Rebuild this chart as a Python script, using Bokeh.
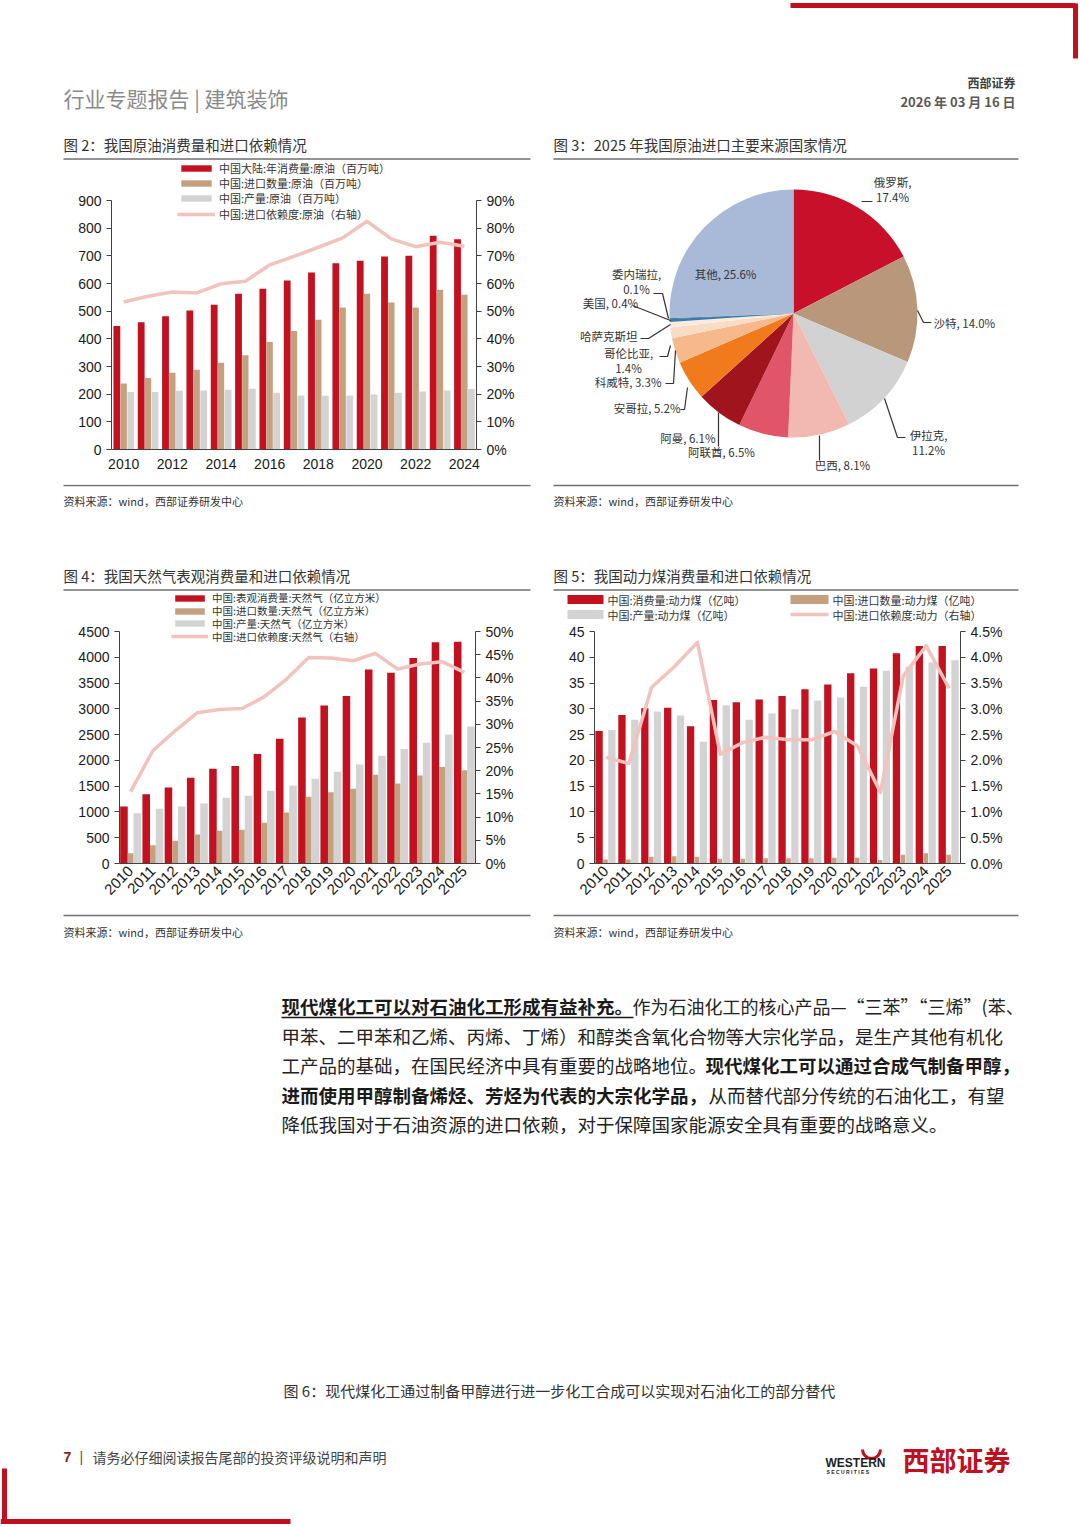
import numpy as np
from bokeh.plotting import figure
from bokeh.layouts import column, row
from bokeh.models import (Range1d, LinearAxis, FixedTicker, PrintfTickFormatter,
                          Legend, LegendItem, ColumnDataSource)
from bokeh.transform import dodge
from bokeh.core.properties import value
from bokeh.embed import file_html
from bokeh.resources import INLINE

CJK = "Noto Sans CJK SC"
LAT = "Liberation Sans"
RED = "#C3111F"
TAN = "#C4A07E"
GREY = "#D3D3D3"
PINK = "#F2C3BC"
TXT = "#333333"
RULE = "#6f6f6f"
BRAND = "#C0101E"

# ---------------- data ----------------
oil_years = [2010, 2011, 2012, 2013, 2014, 2015, 2016, 2017, 2018, 2019, 2020, 2021, 2022, 2023, 2024]
oil_consumption = [446, 460, 482, 502, 523, 563, 581, 611, 640, 673, 682, 698, 700, 773, 760]
oil_imports = [239, 258, 277, 288, 314, 341, 389, 428, 469, 513, 563, 531, 513, 577, 559]
oil_production = [208, 208, 212, 213, 216, 220, 205, 195, 194, 195, 199, 205, 210, 213, 219]
oil_dependency = [53.3, 55.4, 56.9, 56.6, 59.9, 60.8, 66.7, 69.8, 73.1, 76.5, 82.5, 76.1, 73.3, 74.9, 73.5]
oil_xticks = [2010, 2012, 2014, 2016, 2018, 2020, 2022, 2024]
oil_legend = ["中国大陆:年消费量:原油（百万吨）", "中国:进口数量:原油（百万吨）",
              "中国:产量:原油（百万吨）", "中国:进口依赖度:原油（右轴）"]

gas_years = [2010, 2011, 2012, 2013, 2014, 2015, 2016, 2017, 2018, 2019, 2020, 2021, 2022, 2023, 2024, 2025]
gas_consumption = [1106, 1345, 1475, 1662, 1837, 1889, 2122, 2419, 2833, 3066, 3247, 3765, 3700, 3984, 4290, 4300]
gas_imports = [200, 356, 440, 563, 634, 653, 789, 990, 1294, 1384, 1449, 1721, 1553, 1708, 1870, 1811]
gas_production = [977, 1061, 1106, 1164, 1274, 1313, 1410, 1513, 1643, 1779, 1921, 2089, 2219, 2341, 2503, 2658]
gas_dependency = [15.5, 24.3, 28.6, 32.5, 33.2, 33.4, 35.9, 39.7, 44.4, 44.3, 43.7, 45.3, 41.9, 43.0, 43.5, 41.2]
gas_legend = ["中国:表观消费量:天然气（亿立方米）", "中国:进口数量:天然气（亿立方米）",
              "中国:产量:天然气（亿立方米）", "中国:进口依赖度:天然气（右轴）"]

coal_years = [2010, 2011, 2012, 2013, 2014, 2015, 2016, 2017, 2018, 2019, 2020, 2021, 2022, 2023, 2024, 2025]
coal_consumption = [25.7, 28.8, 30.1, 30.2, 26.6, 31.7, 31.3, 31.8, 32.5, 33.8, 34.7, 36.9, 37.8, 40.8, 42.2, 42.2]
coal_imports = [0.8, 0.8, 1.3, 1.4, 1.3, 0.9, 0.9, 1.0, 1.0, 1.0, 1.1, 1.1, 0.7, 1.7, 2.0, 1.7]
coal_production = [25.9, 27.9, 29.5, 28.7, 23.6, 30.7, 27.9, 29.1, 29.9, 31.6, 32.2, 34.3, 37.4, 38.2, 39.0, 39.4]
coal_dependency = [2.06, 1.94, 3.42, 3.82, 4.29, 2.12, 2.35, 2.45, 2.40, 2.40, 2.56, 2.28, 1.38, 3.64, 4.22, 3.40]
coal_legend = ["中国:消费量:动力煤（亿吨）", "中国:进口数量:动力煤（亿吨）",
               "中国:产量:动力煤（亿吨）", "中国:进口依赖度:动力（右轴）"]

pie_names = ["俄罗斯", "沙特", "伊拉克", "巴西", "阿联酋", "阿曼", "安哥拉", "科威特",
             "哥伦比亚", "哈萨克斯坦", "美国", "委内瑞拉", "其他"]
pie_shares = [17.4, 14.0, 11.2, 8.1, 6.5, 6.1, 5.2, 3.3, 1.4, 0.7, 0.4, 0.1, 25.6]
pie_colors = ["#C8102A", "#B9977A", "#D2D2D2", "#F2B9B1", "#E05668", "#A0141D", "#F07A1C",
              "#F5B98C", "#F8DCC6", "#FBEBDD", "#3A7CA8", "#1F4E79", "#A9BAD9"]


# ---------------- helpers ----------------
def canvas(x0, y0, w, h):
    p = figure(width=w, height=h, x_range=Range1d(x0, x0 + w), y_range=Range1d(y0 + h, y0),
               x_axis_type=None, y_axis_type=None, output_backend="svg",
               toolbar_location=None, min_border=0, title=None)
    p.outline_line_color = None
    p.frame_align = False
    return p


def put(p, x, y, s, size=12, color=TXT, align="left", font=CJK, style="normal"):
    p.text(x=[x], y=[y], text=[s], text_font=value(font), text_font_size=f"{size}px",
           text_color=color, text_align=align, text_baseline="middle", text_font_style=style)


def hline(p, x0, x1, y, color=RULE, width=1.5):
    p.line(x=[x0, x1], y=[y, y], line_color=color, line_width=width)


def style_axis(a, tick_out, standoff):
    a.axis_line_color = "#404040"
    a.axis_line_width = 1
    a.major_tick_line_color = "#404040"
    a.major_tick_out = tick_out
    a.major_tick_in = 0
    a.minor_tick_line_color = None
    a.major_label_text_font = LAT
    a.major_label_text_font_size = "14px"
    a.major_label_text_color = "#1a1a1a"
    a.major_label_standoff = standoff


def bar_chart(x0, y0, w, h, fl, fr, fb, pmax, years, cons, imp, prod, dep,
              lmax, lstep, rmax, rstep, rfmt, xticks, angle, offs, wids, legend_items,
              legend_size=11):
    mbl = int(round(fl - x0))
    mbr = int(round(x0 + w - fr))
    mbb = int(round(y0 + h - fb))
    fb_r = y0 + h - mbb
    ratio = (fb_r - y0) / (fb_r - pmax)
    src = ColumnDataSource(dict(year=years, cons=cons, imp=imp, prod=prod, dep=dep))
    p = figure(width=w, height=h, x_range=Range1d(years[0] - 0.5, years[-1] + 0.5),
               y_range=Range1d(0, lmax * ratio), x_axis_type=None, y_axis_type=None,
               output_backend="svg", toolbar_location=None, title=None,
               min_border_left=mbl, min_border_right=mbr, min_border_top=0, min_border_bottom=mbb)
    p.frame_align = False
    p.extra_y_ranges = {"r": Range1d(0, rmax * ratio)}
    p.outline_line_color = None
    rend = {}
    rend["c"] = p.vbar(x=dodge("year", offs[0]), top="cons", width=wids[0], source=src,
                       fill_color=RED, line_color=None)
    rend["i"] = p.vbar(x=dodge("year", offs[1]), top="imp", width=wids[1], source=src,
                       fill_color=TAN, line_color=None)
    rend["p"] = p.vbar(x=dodge("year", offs[2]), top="prod", width=wids[2], source=src,
                       fill_color=GREY, line_color=None)
    rend["d"] = p.line(x="year", y="dep", y_range_name="r", source=src, line_color=PINK,
                       line_width=3.5, line_join="round")

    xa = LinearAxis(ticker=FixedTicker(ticks=xticks), formatter=PrintfTickFormatter(format="%d"))
    style_axis(xa, 0, 9 if angle == 0 else 5)
    xa.major_tick_line_color = None
    if angle:
        xa.major_label_orientation = angle
        xa.major_label_text_font_size = "15px"
    p.add_layout(xa, "below")

    lt = [float(v) for v in np.arange(0, lmax + lstep / 2, lstep)]
    ya = LinearAxis(ticker=FixedTicker(ticks=lt), bounds=(0, lmax),
                    formatter=PrintfTickFormatter(format="%d"))
    style_axis(ya, 5, 5)
    p.add_layout(ya, "left")

    rt = [float(v) for v in np.arange(0, rmax + rstep / 2, rstep)]
    ra = LinearAxis(y_range_name="r", ticker=FixedTicker(ticks=rt), bounds=(0, rmax),
                    formatter=PrintfTickFormatter(format=rfmt))
    style_axis(ra, 5, 5)
    p.add_layout(ra, "right")

    # one Legend per entry so that each row sits where the reference has it
    LH = 18
    for lab, key, lx, yc, gw, gh in legend_items:
        leg = Legend(items=[LegendItem(label=lab, renderers=[rend[key]])],
                     location=(lx - (x0 + mbl), fb_r - (yc + LH / 2)),
                     orientation="vertical", border_line_color=None, background_fill_alpha=0,
                     padding=0, margin=0, spacing=0, glyph_width=gw, glyph_height=gh,
                     label_height=LH, label_standoff=4, label_text_font=CJK,
                     label_text_font_size=f"{legend_size}px", label_text_color=TXT)
        p.add_layout(leg)
    return p, rend


SOURCE = "资料来源：wind，西部证券研发中心"
LW = 545          # left column width
RW = 533          # right column width
TOTAL_W = LW + RW

# ---------------- header ----------------
head = canvas(0, 0, TOTAL_W, 130)
head.line(x=[790, 1075], y=[5, 5], line_color=BRAND, line_width=5)
head.line(x=[1075, 1075], y=[3, 58], line_color=BRAND, line_width=5)
put(head, 63, 97, "行业专题报告 | 建筑装饰", size=21, color="#8a8a8a")
put(head, 1015, 82, "西部证券", size=12, color="#404040", align="right", style="bold")
put(head, 1015, 101, "2026 年 03 月 16 日", size=13, color="#595959", align="right", style="bold")

# ---------------- chart 2 (oil) ----------------
cap2 = canvas(0, 130, LW, 30)
put(cap2, 63, 144, "图 2：我国原油消费量和进口依赖情况", size=14.5)
hline(cap2, 63, 530, 158.5)

ch2, _ = bar_chart(0, 160, LW, 324, fl=111, fr=476, fb=449, pmax=200,
                   years=oil_years, cons=oil_consumption, imp=oil_imports, prod=oil_production,
                   dep=oil_dependency, lmax=900, lstep=100, rmax=90, rstep=10, rfmt="%d%%",
                   xticks=oil_xticks, angle=0, offs=(-0.28, 0.0, 0.29), wids=(0.28, 0.26, 0.28),
                   legend_items=[(oil_legend[0], "c", 177, 168, 38, 8),
                                 (oil_legend[1], "i", 177, 183, 38, 8),
                                 (oil_legend[2], "p", 177, 198, 38, 8),
                                 (oil_legend[3], "d", 177, 214, 38, 8)])

src2 = canvas(0, 484, LW, 31)
hline(src2, 63, 530, 485)
put(src2, 63, 500, SOURCE, size=11)

# ---------------- chart 3 (pie) ----------------
pie = canvas(LW, 130, RW, 385)
put(pie, 553, 144, "图 3：2025 年我国原油进口主要来源国家情况", size=14.5)
hline(pie, 553, 1018, 158.5)
hline(pie, 553, 1018, 485)
put(pie, 553, 500, SOURCE, size=11)

frac = np.array(pie_shares) / sum(pie_shares)
cum = np.concatenate([[0.0], np.cumsum(frac)])
pie_src = ColumnDataSource(dict(
    x=[793.0] * len(pie_names), y=[313.0] * len(pie_names),
    start=list(np.pi / 2 - 2 * np.pi * cum[1:]), end=list(np.pi / 2 - 2 * np.pi * cum[:-1]),
    color=pie_colors, name=pie_names))
pie.wedge(x="x", y="y", radius=124, start_angle="start", end_angle="end",
          fill_color="color", line_color=None, source=pie_src)

lab = {n: f"{n}, {v:.1f}%" for n, v in zip(pie_names, pie_shares)}
two = {n: (f"{n},", f"{v:.1f}%") for n, v in zip(pie_names, pie_shares)}
pie_text = [
    (two["俄罗斯"][0], 892, 181, "center"), (two["俄罗斯"][1], 892, 196, "center"),
    (lab["沙特"], 933, 322, "left"),
    (two["伊拉克"][0], 928, 434, "center"), (two["伊拉克"][1], 928, 449, "center"),
    (lab["巴西"], 842, 464, "center"),
    (lab["阿联酋"], 721, 451, "center"),
    (lab["阿曼"], 715, 437, "right"),
    (lab["安哥拉"], 680, 407, "right"),
    (lab["科威特"], 661, 381, "right"),
    (two["哥伦比亚"][0], 628, 352, "center"), (two["哥伦比亚"][1], 628, 367, "center"),
    ("哈萨克斯坦", 637, 335, "right"),
    (lab["美国"], 610, 302, "center"),
    (two["委内瑞拉"][0], 636, 273, "center"), (two["委内瑞拉"][1], 636, 288, "center"),
    (lab["其他"], 725, 273, "center"),
]
for s, x, y, a in pie_text:
    put(pie, x, y, s, size=11.5, align=a)

leaders_x = [[861, 872], [917, 923, 931], [884, 897, 905], [819, 819], [718, 718],
             [687, 684, 680], [675, 673, 665], [670, 667, 659], [670, 648, 640],
             [670, 632], [668, 662, 653]]
leaders_y = [[201, 201], [310, 322, 322], [398, 437, 437], [435, 460], [412, 446],
             [387, 409, 409], [350, 383, 383], [345, 356, 356], [324, 338, 338],
             [320, 305], [318, 293, 293]]
pie.multi_line(xs=leaders_x, ys=leaders_y, line_color="#333333", line_width=1.2)

# ---------------- chart 4 (gas) ----------------
cap4 = canvas(0, 515, LW, 76)
put(cap4, 63, 575, "图 4：我国天然气表观消费量和进口依赖情况", size=14.5)
hline(cap4, 63, 530, 589.5)

ch4, _ = bar_chart(0, 591, LW, 322, fl=119, fr=475, fb=863, pmax=631,
                   years=gas_years, cons=gas_consumption, imp=gas_imports, prod=gas_production,
                   dep=gas_dependency, lmax=4500, lstep=500, rmax=50, rstep=5, rfmt="%d%%",
                   xticks=gas_years, angle=np.pi / 4, offs=(-0.3, 0.0, 0.3), wids=(0.34, 0.26, 0.34),
                   legend_items=[(gas_legend[0], "c", 171, 597.5, 37, 8),
                                 (gas_legend[1], "i", 171, 610.5, 37, 8),
                                 (gas_legend[2], "p", 171, 623, 37, 8),
                                 (gas_legend[3], "d", 171, 636, 37, 8)],
                   legend_size=10.5)

src4 = canvas(0, 913, LW, 32)
hline(src4, 63, 530, 915)
put(src4, 63, 931, SOURCE, size=11)

# ---------------- chart 5 (coal) ----------------
ch5, rend5 = bar_chart(LW, 622, RW, 291, fl=594, fr=960, fb=863, pmax=631,
                       years=coal_years, cons=coal_consumption, imp=coal_imports,
                       prod=coal_production, dep=coal_dependency, lmax=45, lstep=5, rmax=4.5,
                       rstep=0.5, rfmt="%.1f%%", xticks=coal_years, angle=np.pi / 4,
                       offs=(-0.3, -0.02, 0.26), wids=(0.32, 0.2, 0.32), legend_items=[])

# the coal legend reaches past the plot frame, so it is drawn in the strip above
cap5 = canvas(LW, 515, RW, 107)
put(cap5, 553, 575, "图 5：我国动力煤消费量和进口依赖情况", size=14.5)
hline(cap5, 553, 1018, 589.5)
leg5 = [(coal_legend[0], RED, "bar", 567, 599, 36),
        (coal_legend[2], GREY, "bar", 567, 614, 36),
        (coal_legend[1], TAN, "bar", 790, 599, 38),
        (coal_legend[3], PINK, "line", 790, 614, 38)]
for text, col, kind, lx, yc, gw in leg5:
    if kind == "bar":
        cap5.rect(x=[lx + gw / 2], y=[yc], width=gw, height=9, fill_color=col, line_color=None)
    else:
        cap5.line(x=[lx, lx + gw], y=[yc, yc], line_color=col, line_width=3.5)
    put(cap5, lx + gw + 4, yc, text, size=11)

src5 = canvas(LW, 913, RW, 32)
hline(src5, 553, 1018, 915)
put(src5, 553, 931, SOURCE, size=11)

# ---------------- body text & footer ----------------
body = canvas(0, 945, TOTAL_W, 579)
FS = 18.5
put(body, 281, 1005, "现代煤化工可以对石油化工形成有益补充。", size=FS, color="#1a1a1a", style="bold")
body.line(x=[281, 633], y=[1017, 1017], line_color="#1a1a1a", line_width=1.5)
put(body, 632, 1005, "作为石油化工的核心产品—“三苯”“三烯”(苯、", size=18, color="#222222")
put(body, 281, 1035, "甲苯、二甲苯和乙烯、丙烯、丁烯）和醇类含氧化合物等大宗化学品，是生产其他有机化",
    size=FS, color="#222222")
put(body, 281, 1064, "工产品的基础，在国民经济中具有重要的战略地位。", size=FS, color="#222222")
put(body, 705, 1064, "现代煤化工可以通过合成气制备甲醇，", size=FS, color="#1a1a1a", style="bold")
put(body, 281, 1094, "进而使用甲醇制备烯烃、芳烃为代表的大宗化学品，", size=FS, color="#1a1a1a", style="bold")
put(body, 708, 1094, "从而替代部分传统的石油化工，有望", size=FS, color="#222222")
put(body, 281, 1123, "降低我国对于石油资源的进口依赖，对于保障国家能源安全具有重要的战略意义。",
    size=FS, color="#222222")

put(body, 283, 1390, "图 6：现代煤化工通过制备甲醇进行进一步化工合成可以实现对石油化工的部分替代",
    size=15, color=TXT)

put(body, 63, 1456, "7", size=14, color="#8B1A1A", font=LAT, style="bold")
put(body, 79, 1456, "|", size=14, color="#555555", font=LAT)
put(body, 92, 1456, "请务必仔细阅读报告尾部的投资评级说明和声明", size=14, color="#444444")

body.arc(x=[871], y=[1449], radius=9, start_angle=np.pi, end_angle=2 * np.pi,
         line_color=BRAND, line_width=3)
put(body, 825, 1462, "WESTERN", size=12, color="#222222", font=LAT, style="bold")
put(body, 826, 1471, "S E C U R I T I E S", size=5, color="#222222", font=LAT, style="bold")
put(body, 902, 1459, "西部证券", size=27, color=BRAND, style="bold")

body.line(x=[4, 4], y=[1468, 1524], line_color=BRAND, line_width=5)
body.line(x=[0, 290], y=[1521, 1521], line_color=BRAND, line_width=5)

layout = column(
    head,
    row(column(cap2, ch2, src2), pie),
    row(column(cap4, ch4, src4), column(cap5, ch5, src5)),
    body,
)

open("out.html", "w").write(file_html(layout, INLINE))
